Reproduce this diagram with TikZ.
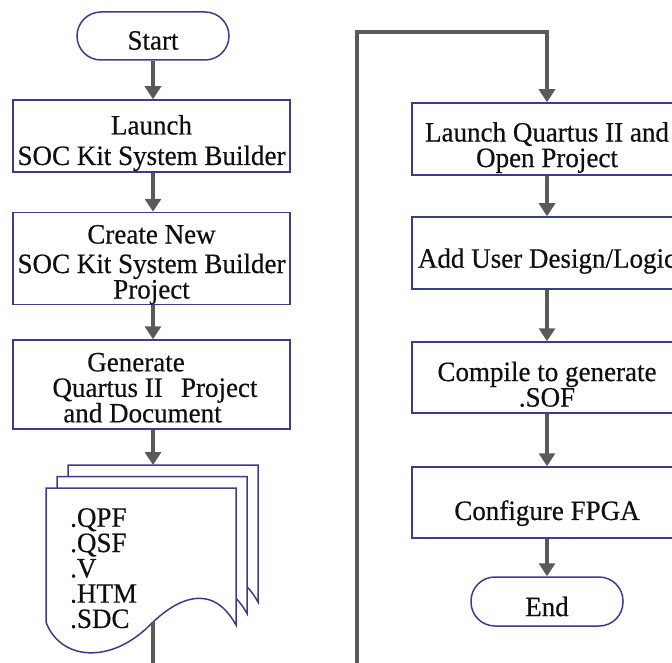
\documentclass[tikz,border=0pt]{standalone}
\usepackage{fontspec}
\setmainfont{Liberation Serif}[FakeStretch=0.965,FakeBold=0.4]
\usetikzlibrary{arrows.meta}
\definecolor{bord}{RGB}{60,60,140}
\definecolor{conn}{RGB}{90,90,90}
\definecolor{txt}{RGB}{15,15,15}
% strut that lowers a centred block of text
\newcommand{\lowr}[1]{\rule{0pt}{#1}}
\begin{document}
\begin{tikzpicture}[x=1pt,y=-1pt,
  box/.style={draw=bord,line width=1.5pt,fill=white,inner sep=0pt,text=txt,align=center,font=\fontsize{28}{25.5}\selectfont},
  term/.style={box,rounded corners=24pt,minimum width=152pt,minimum height=48pt},
  lbox/.style={box,minimum width=277pt},
  rbox/.style={box,minimum width=270pt,minimum height=72pt},
  flow/.style={draw=conn,line width=4pt,-{Triangle[width=16pt,length=13pt]}},
  plain/.style={draw=conn,line width=4pt},
  page/.style={draw=bord,line width=1.5pt,fill=white}]
\useasboundingbox (0,0) rectangle (672,663);
\clip (0,0) rectangle (672,663);
% left column
\node[term] (start) at (153,36) {\lowr{27.5pt}Start};
\node[lbox,minimum height=72pt] (b1) at (151.5,136) {\lowr{33.5pt}Launch\\[5pt]SOC Kit System Builder};
\node[lbox,minimum height=87pt] (b2) at (151.5,258.5) {\lowr{31pt}Create New\\[4pt]SOC Kit System Builder\\Project};
\node[lbox,minimum height=89pt] (b3) at (151.5,384.5) {\lowr{25pt}Generate\hspace*{31pt}\\\hspace*{7pt}Quartus II\hspace{0.65em}Project\\and Document\hspace*{18pt}};
\coordinate (doctop) at (153,465);
\coordinate (docb) at (153,622);
\coordinate (lb) at (153,680);
% document stack
\foreach \dx/\dy in {22/-23, 11/-11.5, 0/0}{
  \begin{scope}[shift={(\dx,\dy)}]
    \draw[page] (46,488) -- (236,488) -- (236,625)
      .. controls (210,578) and (172,603) .. (150,625)
      .. controls (110,665) and (60,660) .. (46,622) -- cycle;
  \end{scope}
}
\node[anchor=north west,inner sep=0pt,align=left,text=txt,font=\fontsize{28}{25.3}\selectfont] (files) at (70,508) {.QPF\\.QSF\\.V\\.HTM\\.SDC};
% right column
\node[rbox] (r1) at (547,139) {\lowr{36.5pt}Launch Quartus II and\\Open Project};
\node[rbox] (r2) at (547,253) {\lowr{35.5pt}Add User Design/Logic};
\node[rbox,minimum height=71pt] (r3) at (547,377.5) {\lowr{33pt}Compile to generate\\.SOF};
\node[rbox,minimum height=71pt] (r4) at (547,502.5) {\lowr{41pt}Configure FPGA};
\node[term,minimum height=49pt] (end) at (547,601.5) {\lowr{29.5pt}End};
\coordinate (rb) at (357,680);
\coordinate (rt) at (357,32);
% connectors
\draw[flow] (start.south) -- (start.south |- b1.north);
\draw[flow] (start.south |- b1.south) -- (start.south |- b2.north);
\draw[flow] (start.south |- b2.south) -- (start.south |- b3.north);
\draw[flow] (doctop |- b3.south) -- (doctop);
\draw[plain] (docb) -- (lb);
\draw[flow] (rb) -- (rt) -| (r1.north);
\draw[flow] (r1.south) -- (r2.north);
\draw[flow] (r2.south) -- (r3.north);
\draw[flow] (r3.south) -- (r4.north);
\draw[flow] (r4.south) -- (end.north);
\end{tikzpicture}
\end{document}
